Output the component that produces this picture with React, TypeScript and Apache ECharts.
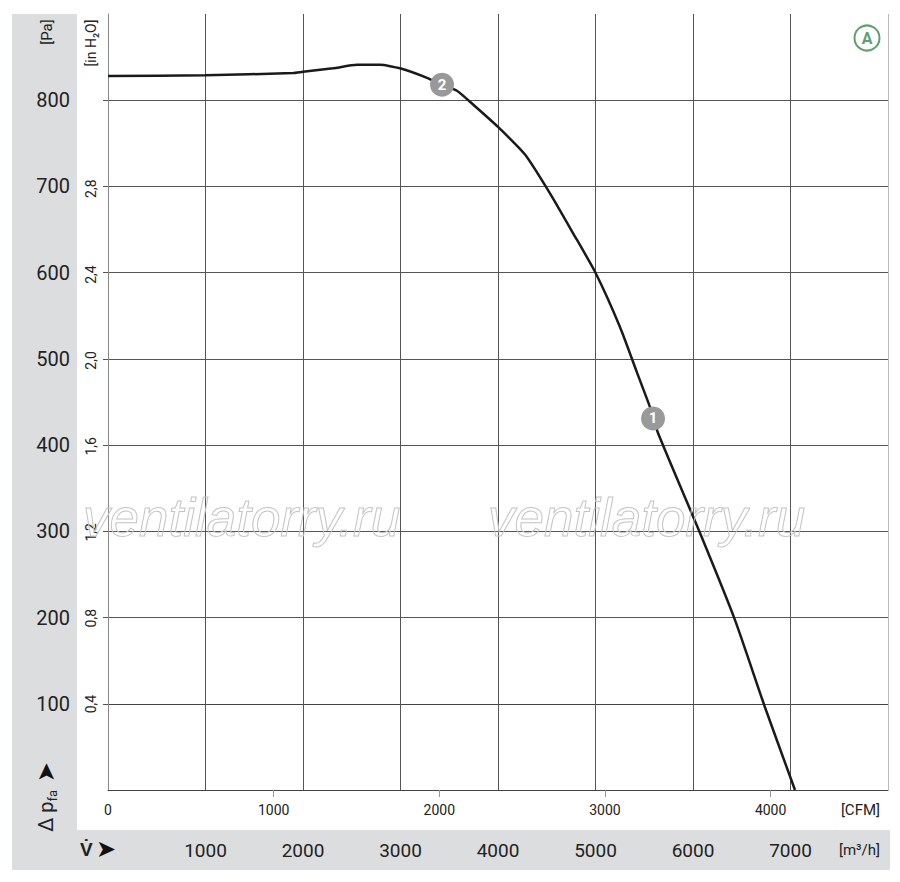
import React, { useEffect, useRef } from "react";
import * as echarts from "echarts";

// Fan curve: volume flow [m³/h] vs static pressure [Pa]
const flowM3h = [0, 995, 1897, 2000, 2308, 2554, 2790, 2995, 3272, 3426, 3579, 3744, 4000, 4277, 4533, 4769, 4995, 5251, 5426, 5559, 5641, 6072, 6431, 6738, 7046];
const pressurePa = [828, 829, 831.5, 833, 837, 841, 841, 837, 826, 818, 811, 795, 769, 737, 692, 646, 601, 537, 484, 444, 414, 298, 197, 96, 0];

// operating points
const opFlow = [5590, 3426];
const opPa = [431, 818];
const opLabels = ["1", "2"];

// tick labels
const m3hTicks = [1000, 2000, 3000, 4000, 5000, 6000, 7000];
const cfmTicks = [0, 1000, 2000, 3000, 4000];
const cfmTickMarks = [1000, 2000, 3000, 4000];
const paTicks = [100, 200, 300, 400, 500, 600, 700, 800];
const inH2OTicks = [0.4, 0.8, 1.2, 1.6, 2.0, 2.4, 2.8];

const M3H_MAX = 8000;
const PA_MAX = 900;
const CFM_PER_M3H = 0.588578;
const PA_PER_INH2O = 249.089;

const FONT = "Roboto, 'Liberation Sans', sans-serif";
const GRID_C = "#555";
const plain = (v: number) => String(v);

export default function App() {
  const ref = useRef<HTMLDivElement>(null);

  useEffect(() => {
    if (!ref.current) return;
    const chart = echarts.init(ref.current, null, { renderer: "svg" });

    const xSplitColors = [GRID_C, GRID_C, GRID_C, GRID_C, GRID_C, GRID_C, GRID_C, GRID_C, "#bbb"];
    const ySplitColors = ["#444", GRID_C, GRID_C, GRID_C, GRID_C, GRID_C, GRID_C, GRID_C, GRID_C, "#bbb"];

    const option: any = {
      animation: false,
      backgroundColor: "#fff",
      grid: { left: 108, top: 14, width: 780, height: 776, containLabel: false, outerBoundsMode: "none" },
      xAxis: [
        {
          type: "value",
          min: 0,
          max: M3H_MAX,
          interval: 1000,
          position: "bottom",
          axisLine: { show: true, lineStyle: { color: "#444", width: 1 } },
          axisTick: { show: false },
          splitLine: { show: true, lineStyle: { color: xSplitColors, width: 1 } },
          axisLabel: {
            customValues: m3hTicks,
            formatter: plain,
            margin: 60,
            verticalAlign: "middle",
            fontSize: 19,
            color: "#222",
            fontFamily: FONT,
          },
        },
        {
          type: "value",
          min: 0,
          max: M3H_MAX * CFM_PER_M3H,
          interval: 1000,
          position: "bottom",
          axisLine: { show: false },
          axisTick: { show: true, length: 7, customValues: cfmTickMarks, lineStyle: { color: "#999" } },
          splitLine: { show: false },
          axisLabel: {
            customValues: cfmTicks,
            formatter: plain,
            margin: 13,
            fontSize: 14,
            color: "#222",
            fontFamily: FONT,
          },
        },
      ],
      yAxis: [
        {
          type: "value",
          min: 0,
          max: PA_MAX,
          interval: 100,
          position: "left",
          axisLine: { show: true, lineStyle: { color: "#888", width: 1 } },
          axisTick: { show: true, length: 5, customValues: paTicks, lineStyle: { color: GRID_C } },
          splitLine: { show: true, lineStyle: { color: ySplitColors, width: 1 } },
          axisLabel: {
            customValues: paTicks,
            formatter: plain,
            margin: 38,
            fontSize: 20,
            color: "#222",
            fontFamily: FONT,
          },
        },
        {
          type: "value",
          min: 0,
          max: PA_MAX / PA_PER_INH2O,
          interval: 0.4,
          position: "left",
          axisLine: { show: false },
          axisTick: { show: false },
          splitLine: { show: false },
          axisLabel: {
            customValues: inH2OTicks,
            rotate: 90,
            margin: 10,
            fontSize: 14,
            color: "#222",
            fontFamily: FONT,
            formatter: (v: number) => v.toFixed(1).replace(".", ","),
          },
        },
      ],
      series: [
        {
          type: "line",
          xAxisIndex: 0,
          yAxisIndex: 0,
          data: flowM3h.map((x, i) => [x, pressurePa[i]]),
          showSymbol: false,
          smooth: 0.2,
          lineStyle: { color: "#1a1a1a", width: 2.5 },
          z: 3,
          markPoint: {
            z: 10,
            symbol: "circle",
            symbolSize: 24,
            itemStyle: { color: "#999" },
            label: {
              show: true,
              position: "inside",
              color: "#fff",
              fontSize: 15,
              fontWeight: "bold",
              fontFamily: FONT,
              formatter: (p: any) => p.name,
            },
            data: opFlow.map((x, i) => ({ name: opLabels[i], coord: [x, opPa[i]] })),
          },
        },
      ],
      graphic: [
        // grey bands
        { type: "rect", z: -10, shape: { x: 12, y: 14, width: 65, height: 816 }, style: { fill: "#dcdddf" } },
        { type: "rect", z: -10, shape: { x: 12, y: 830, width: 878, height: 40 }, style: { fill: "#dcdddf" } },
        // watermarks
        {
          type: "text", x: 83, y: 517, z: 20,
          style: { text: "ventilatorry.ru", fill: "rgba(0,0,0,0)", stroke: "#c4c4c4", lineWidth: 1, fontSize: 53, fontStyle: "italic", fontFamily: "'Liberation Sans', sans-serif", verticalAlign: "middle", align: "left" },
        },
        {
          type: "text", x: 488, y: 517, z: 20,
          style: { text: "ventilatorry.ru", fill: "rgba(0,0,0,0)", stroke: "#c4c4c4", lineWidth: 1, fontSize: 53, fontStyle: "italic", fontFamily: "'Liberation Sans', sans-serif", verticalAlign: "middle", align: "left" },
        },
        // unit labels
        {
          type: "text", x: 47, y: 32, rotation: Math.PI / 2,
          style: { text: "[Pa]", fontSize: 15, fill: "#222", fontFamily: FONT, align: "center", verticalAlign: "middle" },
        },
        {
          type: "text", x: 91, y: 43, rotation: Math.PI / 2,
          style: { text: "[in H₂O]", fontSize: 14, fill: "#222", fontFamily: FONT, align: "center", verticalAlign: "middle" },
        },
        {
          type: "text", x: 880, y: 810,
          style: { text: "[CFM]", fontSize: 15, fill: "#222", fontFamily: FONT, align: "right", verticalAlign: "middle" },
        },
        {
          type: "text", x: 880, y: 850,
          style: { text: "[m³/h]", fontSize: 15, fill: "#222", fontFamily: FONT, align: "right", verticalAlign: "middle" },
        },
        // axis titles
        {
          type: "text", x: 46, y: 797, rotation: Math.PI / 2,
          style: {
            text: "{n|Δ p}{s|fa}{a| ➤}",
            align: "center",
            verticalAlign: "middle",
            rich: {
              n: { fontSize: 20, fill: "#222", fontFamily: FONT, verticalAlign: "middle", lineHeight: 26 },
              s: { fontSize: 13, fill: "#222", fontFamily: FONT, verticalAlign: "bottom", lineHeight: 26 },
              a: { fontSize: 24, fill: "#111", fontFamily: "'DejaVu Sans', sans-serif", verticalAlign: "middle", lineHeight: 26 },
            },
          },
        },
        {
          type: "text", x: 80, y: 849,
          style: {
            text: "{v|V̇} {a|➤}",
            align: "left",
            verticalAlign: "middle",
            rich: {
              v: { fontSize: 19, fill: "#222", fontWeight: "bold", fontFamily: FONT },
              a: { fontSize: 24, fill: "#111", fontFamily: "'DejaVu Sans', sans-serif" },
            },
          },
        },
        // "A" badge
        { type: "circle", shape: { cx: 867, cy: 38, r: 12.5 }, style: { fill: "#fff", stroke: "#5f9e6e", lineWidth: 2 }, z: 10 },
        {
          type: "text", x: 867, y: 38.5, z: 11,
          style: { text: "A", fontSize: 16, fontWeight: "bold", fill: "#5f9e6e", fontFamily: FONT, align: "center", verticalAlign: "middle" },
        },
      ],
    };

    chart.setOption(option);
    return () => chart.dispose();
  }, []);

  return (
    <div
      ref={ref}
      style={{ position: "absolute", left: 0, top: 0, width: 900, height: 882 }}
    />
  );
}
